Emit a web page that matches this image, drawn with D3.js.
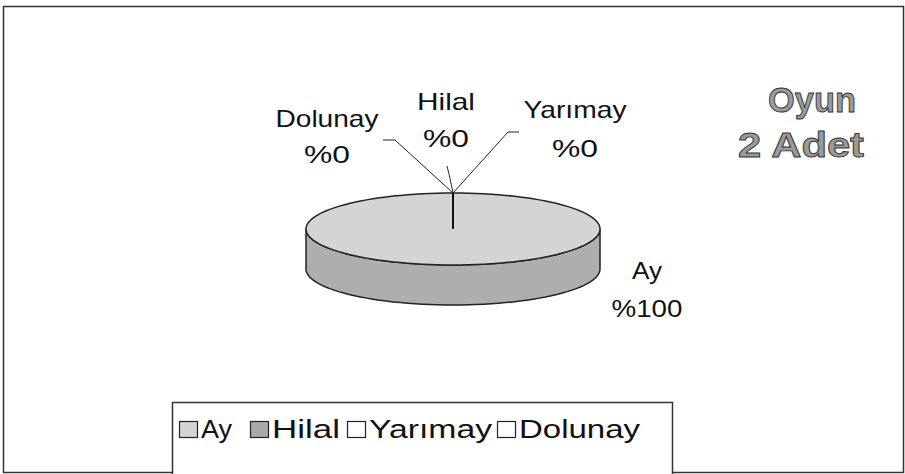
<!DOCTYPE html>
<html>
<head>
<meta charset="utf-8">
<script src="https://cdn.jsdelivr.net/npm/d3@7"></script>
<style>
  body { margin: 0; background: #fff; }
  text { font-family: "Liberation Sans", Arial, sans-serif; }
</style>
</head>
<body>
<svg id="chart"></svg>
<script>
// chart data
const categories = ['Ay', 'Hilal', 'Yarımay', 'Dolunay'];
const counts = [2, 0, 0, 0];
const titleLines = ['Oyun', '2 Adet'];
const sliceColors = ['#d4d4d4', '#a9a9a9', '#ffffff', '#ffffff'];

const W = 905, H = 474;
const svg = d3.select('#chart').attr('width', W).attr('height', H);

// outer frame
svg.append('rect')
    .attr('x', 3.5).attr('y', 6.5)
    .attr('width', 900).attr('height', 466)
    .attr('fill', 'none').attr('stroke', '#333').attr('stroke-width', 1.5);

// pie geometry (ellipse projection)
const cx = 453, cy = 229, rx = 147, ry = 36, depth = 40;
const total = d3.sum(counts);
const pie = d3.pie().sort(null).value(d => d)(counts);

const pt = (a, dy = 0) => [cx + rx * Math.sin(a), cy - ry * Math.cos(a) + dy];

const g = svg.append('g');

// side walls (front half only)
pie.forEach((s, i) => {
  if (s.endAngle - s.startAngle <= 0) return;
  const a0 = Math.max(s.startAngle, Math.PI / 2);
  const a1 = Math.min(s.endAngle, Math.PI * 3 / 2);
  if (a1 <= a0) return;
  const steps = 60;
  const top = d3.range(steps + 1).map(k => pt(a0 + (a1 - a0) * k / steps));
  const bot = top.map(p => [p[0], p[1] + depth]).reverse();
  g.append('path')
      .attr('d', d3.line()(top.concat(bot)) + 'Z')
      .attr('fill', d3.color(sliceColors[i]).darker(0.55))
      .attr('stroke', '#222').attr('stroke-width', 1.5);
});

// top faces
pie.forEach((s, i) => {
  if (s.endAngle - s.startAngle <= 0) return;
  const steps = 120;
  const arcPts = d3.range(steps + 1).map(k => pt(s.startAngle + (s.endAngle - s.startAngle) * k / steps));
  const full = s.endAngle - s.startAngle >= Math.PI * 2 - 1e-6;
  const d = full ? d3.line()(arcPts) + 'Z' : d3.line()([[cx, cy]].concat(arcPts)) + 'Z';
  g.append('path')
      .attr('d', d)
      .attr('fill', sliceColors[i])
      .attr('stroke', '#222').attr('stroke-width', 1.5);
  // radial edge
  g.append('line')
      .attr('x1', cx).attr('y1', cy)
      .attr('x2', pt(s.startAngle)[0]).attr('y2', pt(s.startAngle)[1])
      .attr('stroke', '#111').attr('stroke-width', 2);
});

// labels: name line and percent line, with the widths seen in the picture
const pct = v => '%' + Math.round(v / total * 100);
const labelPos = {
  'Ay':      {x: 647, y: 279, gap: 38, w: [30, 71], line: null},
  'Hilal':   {x: 446, y: 110, gap: 37, w: [58, 46], line: [[447, 166], [450, 178], [453, 193]]},
  'Yarımay': {x: 575, y: 118, gap: 39, w: [103, 46], line: [[519, 132], [508, 132], [453, 193]]},
  'Dolunay': {x: 327, y: 127, gap: 36, w: [103, 46], line: [[383, 140], [395, 140], [453, 193]]}
};

categories.forEach((c, i) => {
  const lp = labelPos[c];
  if (lp.line) {
    svg.append('path')
        .attr('d', d3.line().curve(c === 'Hilal' ? d3.curveBasis : d3.curveLinear)(lp.line))
        .attr('fill', 'none').attr('stroke', '#222').attr('stroke-width', 1);
  }
  [c, pct(counts[i])].forEach((txt, k) => {
    svg.append('text')
        .attr('x', lp.x - lp.w[k] / 2).attr('y', lp.y + k * lp.gap)
        .attr('font-size', 24)
        .attr('textLength', lp.w[k]).attr('lengthAdjust', 'spacingAndGlyphs')
        .attr('fill', '#111')
        .text(txt);
  });
});

// title
const titleBox = [{x: 768, y: 112, w: 88}, {x: 738, y: 157, w: 126}];
svg.append('g').selectAll('text').data(titleLines).join('text')
    .attr('x', (d, i) => titleBox[i].x)
    .attr('y', (d, i) => titleBox[i].y)
    .attr('textLength', (d, i) => titleBox[i].w)
    .attr('lengthAdjust', 'spacingAndGlyphs')
    .attr('font-size', 35).attr('font-weight', 'bold')
    .attr('fill', '#9a9a9a').attr('stroke', '#333').attr('stroke-width', 0.9)
    .text(d => d);

// legend
const legend = svg.append('g');
legend.append('rect')
    .attr('x', 172.5).attr('y', 402.5)
    .attr('width', 500).attr('height', 80)
    .attr('fill', '#fff').attr('stroke', '#333').attr('stroke-width', 1.5);

const legX = [179, 250, 347, 497];
const legW = [31, 68, 123, 121];
categories.forEach((c, i) => {
  legend.append('rect')
      .attr('x', legX[i] + 0.5).attr('y', 421.5)
      .attr('width', 18).attr('height', 16)
      .attr('fill', sliceColors[i]).attr('stroke', '#222').attr('stroke-width', 1.2);
  legend.append('text')
      .attr('x', legX[i] + 22).attr('y', 438)
      .attr('font-size', 25)
      .attr('textLength', legW[i]).attr('lengthAdjust', 'spacingAndGlyphs')
      .attr('fill', '#111')
      .text(c);
});
</script>
</body>
</html>
